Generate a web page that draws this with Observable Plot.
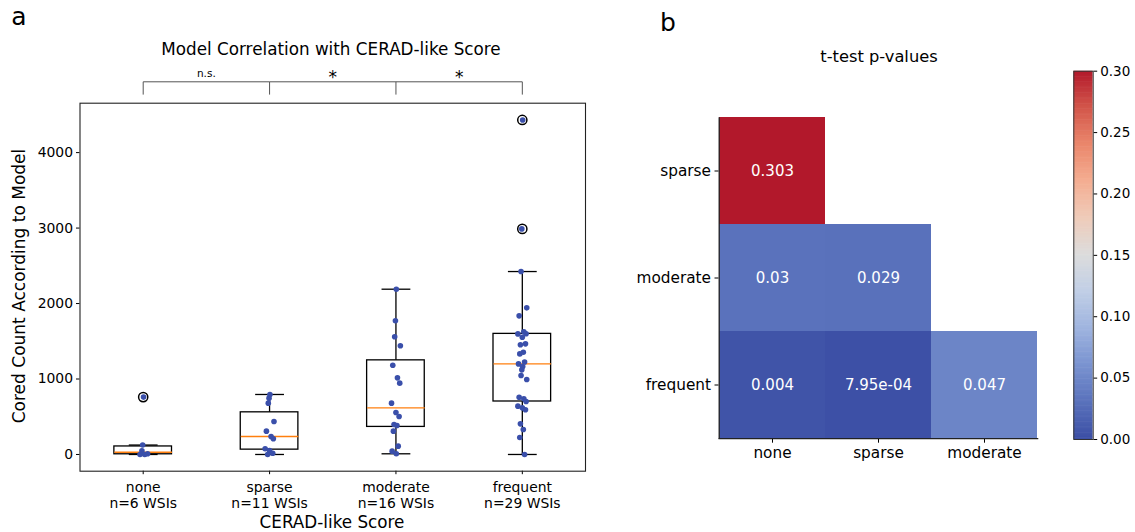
<!DOCTYPE html>
<html><head><meta charset="utf-8">
<script src="https://cdn.jsdelivr.net/npm/d3@7"></script>
<script src="https://cdn.jsdelivr.net/npm/@observablehq/plot@0.6"></script>
<style>
body{margin:0;background:#fff;font-family:"DejaVu Sans",sans-serif;}
#wrap{position:relative;width:1135px;height:532px;overflow:hidden;background:#fff;}
#wrap > svg, #wrap > figure{position:absolute;margin:0;}
.abs{position:absolute;white-space:nowrap;color:#000;font-family:"DejaVu Sans",sans-serif;line-height:1;}
.c{transform:translate(-50%,-50%);}
</style></head><body><div id="wrap"></div>
<script>
// ---------- Panel a data ----------
const categories = ["none", "sparse", "moderate", "frequent"];
const nWSIs = [6, 11, 16, 29];
const noneCounts = [760, 125, 50, 10, 0, 0];
const sparseCounts = [795, 746, 680, 437, 309, 238, 208, 75, 53, 17, 0];
const moderateCounts = [2190, 1771, 1559, 1440, 1183, 1015, 945, 680, 556, 503, 397, 384, 309, 110, 44, 9];
const frequentCounts = [4433, 2989, 2424, 1943, 1837, 1625, 1600, 1598, 1554, 1466, 1453, 1355, 1333, 1225, 1200, 1166, 1121, 1046, 993, 759, 737, 702, 640, 618, 592, 406, 331, 225, 0];
const yTicks = [0, 1000, 2000, 3000, 4000];
const significance = ["n.s.", "*", "*"];

// ---------- Panel b data ----------
const rowsB = ["sparse", "moderate", "frequent"];
const colsB = ["none", "sparse", "moderate"];
const pValues = [[0.303], [0.03, 0.029], [0.004, 0.000795, 0.047]];
const pLabels = [["0.303"], ["0.03", "0.029"], ["0.004", "7.95e-04", "0.047"]];
const cbTicks = [0, 0.05, 0.10, 0.15, 0.20, 0.25, 0.30];
// muted coolwarm as it appears in the figure
const coolwarm = ["#3c4fa5","#5a72bc","#7a93d0","#9fb4df","#c1cfe6","#dcdcdc","#efcbb9","#f4ad91","#ea866b","#d2554a","#b2182b"];

const wrap = document.getElementById("wrap");
function addText(txt, x, y, size, extra) {
  const d = document.createElement("div");
  d.className = "abs c";
  d.textContent = txt;
  d.style.left = x + "px"; d.style.top = y + "px"; d.style.fontSize = size + "px";
  if (extra) Object.assign(d.style, extra);
  wrap.appendChild(d);
  return d;
}
function place(el, left, top) { el.style.left = left + "px"; el.style.top = top + "px"; wrap.appendChild(el); }

// ---------- Panel a ----------
const groups = [noneCounts, sparseCounts, moderateCounts, frequentCounts];
const stats = [], outliers = [], points = [];
const jit = [0.003, -0.004, -0.01, 0.035, -0.025, 0.012, 0.03, -0.035, 0.0, 0.025, -0.015, 0.008, -0.02, 0.018, -0.03];
groups.forEach((vals, i) => {
  const s = vals.slice().sort(d3.ascending);
  const q1 = d3.quantile(s, 0.25), med = d3.quantile(s, 0.5), q3 = d3.quantile(s, 0.75);
  const iqr = q3 - q1;
  const lo = d3.min(s.filter(v => v >= q1 - 1.5 * iqr));
  const hi = d3.max(s.filter(v => v <= q3 + 1.5 * iqr));
  stats.push({i, q1, med, q3, lo, hi});
  s.forEach(v => { if (v < lo || v > hi) outliers.push({i, v}); });
  vals.forEach((v, k) => points.push({i, v, x: i + jit[k % jit.length]}));
});
const allVals = groups.flat();
const ext = d3.extent(allVals);
const pad = 0.05 * (ext[1] - ext[0]);
const yDom = [ext[0] - pad, ext[1] + pad];

const A = {width: 600, height: 532, mL: 79.5, mR: 15, mT: 102.7, mB: 61.3};
const unitsPerPx = (yDom[1] - yDom[0]) / (A.height - A.mT - A.mB);
const above = px => yDom[1] + px * unitsPerPx;
const bw = 0.228, cw = 0.114;
const brackets = significance.map((s, k) => ({k, s}));

const plotA = Plot.plot({
  width: A.width, height: A.height,
  marginLeft: A.mL, marginRight: A.mR, marginTop: A.mT, marginBottom: A.mB,
  style: {fontFamily: "DejaVu Sans", fontSize: "13.9px", color: "#000", background: "transparent", overflow: "visible"},
  x: {type: "linear", domain: [-0.5, 3.5], axis: null},
  y: {domain: yDom, axis: null},
  marks: [
    Plot.axisY({ticks: yTicks, tickFormat: d3.format("d"), tickSize: 3.5, tickPadding: 3.5, label: null, fontSize: 13.9}),
    Plot.axisX({ticks: [0, 1, 2, 3], tickFormat: i => categories[i] + "\nn=" + nWSIs[i] + " WSIs", tickSize: 3.5, tickPadding: 5, label: null, fontSize: 13.9, lineHeight: 1.2}),
    Plot.ruleX(stats, {x: "i", y1: "q3", y2: "hi", stroke: "#000", strokeWidth: 1.3}),
    Plot.ruleX(stats, {x: "i", y1: "lo", y2: "q1", stroke: "#000", strokeWidth: 1.3}),
    Plot.link(stats, {x1: d => d.i - cw, x2: d => d.i + cw, y1: "hi", y2: "hi", stroke: "#000", strokeWidth: 1.3}),
    Plot.link(stats, {x1: d => d.i - cw, x2: d => d.i + cw, y1: "lo", y2: "lo", stroke: "#000", strokeWidth: 1.3}),
    Plot.rect(stats, {x1: d => d.i - bw, x2: d => d.i + bw, y1: "q1", y2: "q3", fill: "none", stroke: "#000", strokeWidth: 1.3}),
    Plot.link(stats, {x1: d => d.i - bw, x2: d => d.i + bw, y1: "med", y2: "med", stroke: "#ff7f0e", strokeWidth: 1.4}),
    Plot.dot(outliers, {x: "i", y: "v", r: 4.6, stroke: "#000", strokeWidth: 1.5, fill: "none"}),
    Plot.dot(points, {x: "x", y: "v", r: 2.8, fill: "#3a4faa", stroke: "none"}),
    Plot.frame({stroke: "#222", strokeWidth: 1.1}),
    // significance brackets
    Plot.link(brackets, {x1: "k", x2: d => d.k + 1, y1: () => above(21.4), y2: () => above(21.4), stroke: "#555", strokeWidth: 1}),
    Plot.link([0, 1, 2, 3], {x1: d => d, x2: d => d, y1: () => above(21.4), y2: () => above(8.6), stroke: "#555", strokeWidth: 1}),
    Plot.text(brackets.filter(d => d.s === "n.s."), {x: d => d.k + 0.5, y: () => above(29.5), text: "s", fontSize: 10.5}),
    Plot.text(brackets.filter(d => d.s !== "n.s."), {x: d => d.k + 0.5, y: () => above(25.5), text: "s", fontSize: 17})
  ]
});
place(plotA, 0, 0);
addText("a", 19, 16, 25);
addText("Model Correlation with CERAD-like Score", 331, 49, 16.8);
addText("CERAD-like Score", 332, 522, 16.8);
addText("Cored Count According to Model", 19, 286, 17, {transform: "translate(-50%,-50%) rotate(-90deg)"});

// ---------- Panel b ----------
const cells = [];
pValues.forEach((row, r) => row.forEach((p, c) => cells.push({row: rowsB[r], col: colsB[c], p, label: pLabels[r][c]})));
const colorOpts = {type: "linear", domain: [0, 0.3], interpolate: d3.piecewise(d3.interpolateRgb, coolwarm), clamp: true};

const B = {width: 440, height: 532, mL: 118.5, mR: 1.7, mT: 117.3, mB: 93.3};
const bandW = (B.width - B.mL - B.mR) / colsB.length;
const bandH = (B.height - B.mT - B.mB) / rowsB.length;
const plotB = Plot.plot({
  width: B.width, height: B.height,
  marginLeft: B.mL, marginRight: B.mR, marginTop: B.mT, marginBottom: B.mB,
  style: {fontFamily: "DejaVu Sans", fontSize: "15px", color: "#000", background: "transparent", overflow: "visible"},
  x: {domain: colsB, padding: 0, axis: null},
  y: {domain: rowsB, padding: 0, axis: null},
  color: colorOpts,
  marks: [
    Plot.cell(cells, {x: "col", y: "row", fill: "p", inset: 0}),
    Plot.text(cells, {x: "col", y: "row", text: "label", fill: "#fff", fontSize: 15}),
    Plot.axisX({tickSize: 4, tickPadding: 4, label: null, fontSize: 15.3}),
    Plot.axisY({tickSize: 4, tickPadding: 4, label: null, fontSize: 15.3}),
    // left and bottom spines
    Plot.ruleX([colsB[0]], {x: d => d, dx: -bandW / 2, stroke: "#222", strokeWidth: 1.3}),
    Plot.ruleY([rowsB[rowsB.length - 1]], {y: d => d, dy: bandH / 2, stroke: "#222", strokeWidth: 1.3})
  ]
});
place(plotB, 600, 0);
addText("b", 668, 22, 25);
addText("t-test p-values", 879, 57, 16.3);

// ---------- Colorbar ----------
const grid = d3.range(0, 0.3, 0.3 / 300);
const C = {width: 95, height: 532, mL: 33.3, mR: 42.3, mT: 70.7, mB: 93};
const plotC = Plot.plot({
  width: C.width, height: C.height,
  marginLeft: C.mL, marginRight: C.mR, marginTop: C.mT, marginBottom: C.mB,
  style: {fontFamily: "DejaVu Sans", fontSize: "13.5px", color: "#000", background: "transparent", overflow: "visible"},
  x: {domain: [0, 1], axis: null},
  y: {domain: [0, 0.3], axis: null},
  color: colorOpts,
  marks: [
    Plot.rect(grid, {x1: 0, x2: 1, y1: d => d, y2: d => d + 0.3 / 300 * 1.5, fill: d => d, clip: true}),
    Plot.frame({stroke: "#333", strokeWidth: 1}),
    Plot.axisY({anchor: "right", ticks: cbTicks, tickFormat: d3.format(".2f"), tickSize: 3.5, tickPadding: 3.5, label: null, fontSize: 13.5})
  ]
});
place(plotC, 1040, 0);
</script></body></html>
